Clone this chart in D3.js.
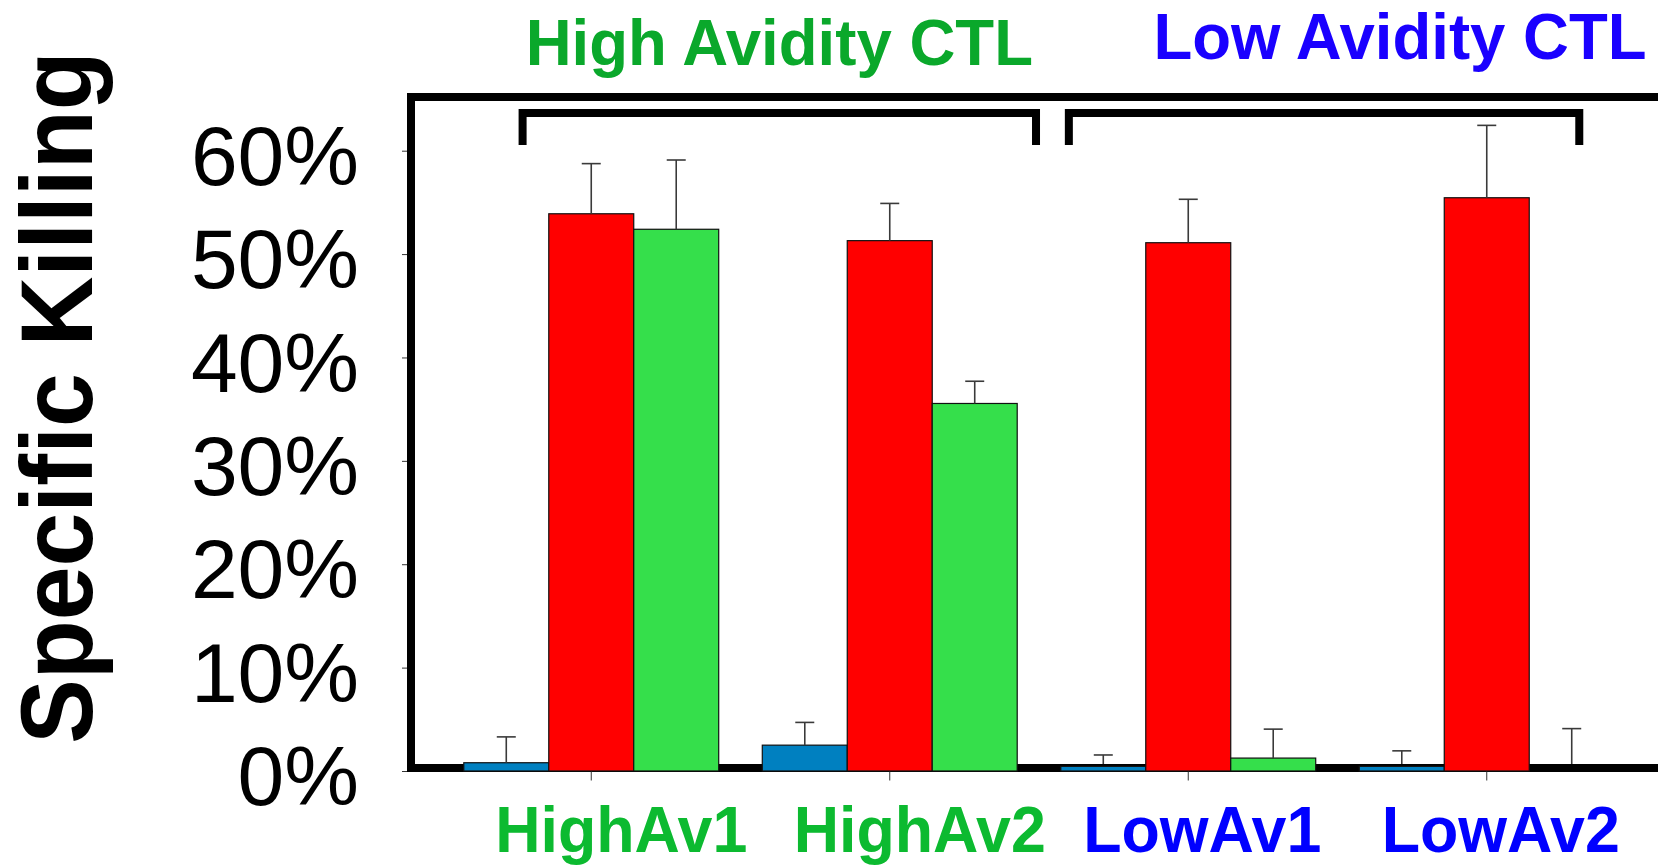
<!DOCTYPE html>
<html>
<head>
<meta charset="utf-8">
<script src="https://cdn.jsdelivr.net/npm/d3@7"></script>
<style>
  html, body { margin: 0; padding: 0; background: #fff; overflow: hidden; }
  text { font-family: "Liberation Sans", Arial, Helvetica, sans-serif; }
</style>
</head>
<body>
<svg id="chart" width="1658" height="866"></svg>
<script>
// values (percent)
var categories = ['HighAv1', 'HighAv2', 'LowAv1', 'LowAv2'];
var seriesNames = ['Series 1', 'Series 2', 'Series 3'];
var blueValues = [0.8, 2.5, 0.45, 0.45];
var blueErrors = [2.5, 2.2, 1.1, 1.5];
var redValues = [53.9, 51.3, 51.1, 55.45];
var redErrors = [4.85, 3.6, 4.2, 7.0];
var greenValues = [52.4, 35.55, 1.25, 0];
var greenErrors = [6.7, 2.15, 2.8, 4.1];
var yTicks = [0, 10, 20, 30, 40, 50, 60];
var groupNames = ['High Avidity CTL', 'Low Avidity CTL'];
var groupMembers = [['HighAv1', 'HighAv2'], ['LowAv1', 'LowAv2']];
// bracket ends, in category-index units (0 = centre of first category)
var bracketSpans = [[-0.23, 1.49], [1.6, 3.31]];

var seriesColors = ['#0080c0', '#ff0000', '#35df4b'];
var groupColors = ['#0aa82b', '#1a00ff'];
var labelColors = ['#0cba30', '#0000ff'];

var svg = d3.select('#chart');

// text in the original is a bit narrower than Liberation Sans
var squeeze = function(sel, k) {
    sel.each(function() {
        var w = this.getComputedTextLength();
        d3.select(this).attr('textLength', w * k).attr('lengthAdjust', 'spacingAndGlyphs');
    });
};

var y = d3.scaleLinear()
    .domain([0, 60])
    .range([771, 150.7]);

var x = d3.scaleBand()
    .domain(categories)
    .range([442, 1636])
    .paddingInner(0.146)
    .paddingOuter(0.073);

var x1 = d3.scaleBand()
    .domain(seriesNames)
    .range([0, x.bandwidth()]);

var center = function(c) { return x(c) + x.bandwidth() / 2; };
var posX = function(i) { return center(categories[0]) + i * x.step(); };

var rows = [];
categories.forEach(function(c, i) {
    [[blueValues, blueErrors], [redValues, redErrors], [greenValues, greenErrors]].forEach(function(s, j) {
        rows.push({ cat: c, series: seriesNames[j], color: seriesColors[j], value: s[0][i], err: s[1][i] });
    });
});

// plot frame (right side runs off the picture)
svg.append('rect')
    .attr('x', 411)
    .attr('y', 97)
    .attr('width', 1400)
    .attr('height', 671)
    .attr('fill', 'none')
    .attr('stroke', '#000')
    .attr('stroke-width', 8);

var g = svg.append('g');

g.selectAll('rect.bar')
    .data(rows)
    .enter().append('rect')
    .attr('class', 'bar')
    .attr('x', function(d) { return x(d.cat) + x1(d.series); })
    .attr('y', function(d) { return y(d.value); })
    .attr('width', x1.bandwidth())
    .attr('height', function(d) { return y(0) - y(d.value); })
    .attr('fill', function(d) { return d.color; })
    .attr('stroke', '#111')
    .attr('stroke-width', 1.2);

var errG = g.selectAll('g.err')
    .data(rows)
    .enter().append('g')
    .attr('class', 'err')
    .attr('stroke', '#3a3a3a')
    .attr('stroke-width', 1.6);

errG.append('line')
    .attr('x1', function(d) { return x(d.cat) + x1(d.series) + x1.bandwidth() / 2; })
    .attr('x2', function(d) { return x(d.cat) + x1(d.series) + x1.bandwidth() / 2; })
    .attr('y1', function(d) { return Math.min(y(d.value), 764); })
    .attr('y2', function(d) { return y(d.value + d.err); });

errG.append('line')
    .attr('x1', function(d) { return x(d.cat) + x1(d.series) + x1.bandwidth() / 2 - 9.5; })
    .attr('x2', function(d) { return x(d.cat) + x1(d.series) + x1.bandwidth() / 2 + 9.5; })
    .attr('y1', function(d) { return y(d.value + d.err); })
    .attr('y2', function(d) { return y(d.value + d.err); });

// y axis
var yAxis = svg.append('g')
    .attr('transform', 'translate(407,0)')
    .call(d3.axisLeft(y)
        .tickValues(yTicks)
        .tickSize(5)
        .tickPadding(43)
        .tickFormat(function(d) { return d + '%'; }));
yAxis.select('.domain').remove();
yAxis.selectAll('.tick line').attr('stroke', '#333');
yAxis.selectAll('.tick text')
    .attr('font-family', '"Liberation Sans", Arial, sans-serif')
    .attr('font-size', 84)
    .attr('fill', '#000')
    .attr('dy', '0.4em');

// x axis ticks
var xAxis = svg.append('g')
    .attr('transform', 'translate(0,771.5)')
    .call(d3.axisBottom(x).tickSize(9).tickFormat(''));
xAxis.select('.domain').remove();
xAxis.selectAll('.tick line').attr('stroke', '#333');

// category labels
var labelDx = [30, 14];
categories.forEach(function(c) {
    var gi = groupMembers[0].indexOf(c) >= 0 ? 0 : 1;
    svg.append('text')
        .attr('class', 'catlabel')
        .attr('x', center(c) + labelDx[gi])
        .attr('y', 852)
        .attr('text-anchor', 'middle')
        .attr('font-size', 64)
        .attr('font-weight', 'bold')
        .attr('fill', labelColors[gi])
        .text(c);
});
squeeze(svg.selectAll('text.catlabel'), 0.98);

// brackets and group titles
var titleDx = [0, 76];
var titleY = [65, 59];
bracketSpans.forEach(function(b, i) {
    var xa = posX(b[0]);
    var xb = posX(b[1]);
    svg.append('path')
        .attr('d', 'M' + xa + ',145V113H' + xb + 'V145')
        .attr('fill', 'none')
        .attr('stroke', '#000')
        .attr('stroke-width', 8);
    svg.append('text')
        .attr('class', 'grouptitle')
        .attr('x', (xa + xb) / 2 + titleDx[i])
        .attr('y', titleY[i])
        .attr('text-anchor', 'middle')
        .attr('font-size', 65)
        .attr('font-weight', 'bold')
        .attr('fill', groupColors[i])
        .text(groupNames[i]);
});
squeeze(svg.selectAll('text.grouptitle'), 0.978);

// y axis title
var yTitle = svg.append('text')
    .attr('transform', 'translate(92,397.5) rotate(-90)')
    .attr('text-anchor', 'middle')
    .attr('font-size', 102)
    .attr('font-weight', 'bold')
    .attr('fill', '#000')
    .text('Specific Killing');
squeeze(yTitle, 0.947);
</script>
</body>
</html>
